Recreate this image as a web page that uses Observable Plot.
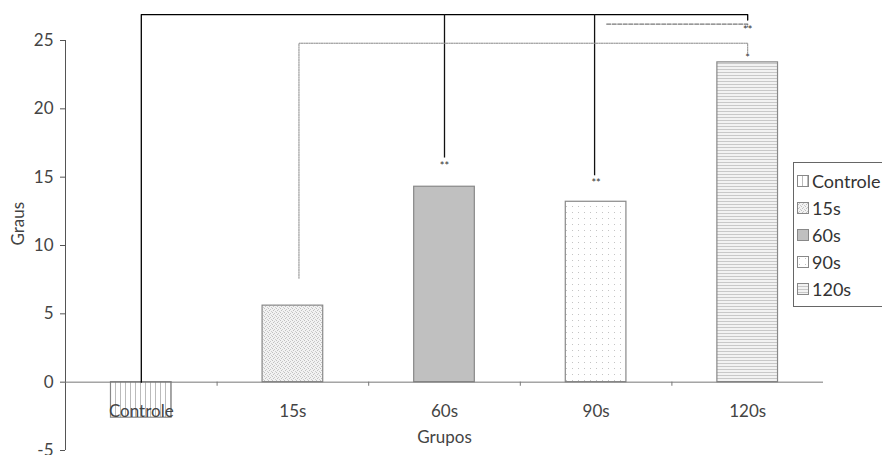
<!DOCTYPE html>
<html>
<head>
<meta charset="utf-8">
<script src="https://cdn.jsdelivr.net/npm/d3@7"></script>
<script src="https://cdn.jsdelivr.net/npm/@observablehq/plot@0.6"></script>
<style>
  html, body { margin: 0; padding: 0; background: #fff; overflow: hidden; }
  #wrap { position: relative; width: 882px; height: 455px; overflow: hidden; font-family: Lato, "Open Sans", sans-serif; }
  #legend { position: absolute; left: 793px; top: 162px; width: 120px; border: 1px solid #666; background: #fff; padding: 4px 0 4px 3px; box-sizing: border-box; }
  .li { display: flex; align-items: center; height: 27px; font-size: 18px; color: #333; }
  .li svg { margin-right: 3px; }
</style>
</head>
<body>
<svg width="0" height="0" style="position:absolute">
  <defs>
    <pattern id="p-ctrl" width="5" height="5" patternUnits="userSpaceOnUse">
      <rect width="5" height="5" fill="#fff"/>
      <rect x="0" y="0" width="1" height="5" fill="#bbb"/>
    </pattern>
    <pattern id="p-15" width="4" height="4" patternUnits="userSpaceOnUse">
      <rect width="4" height="4" fill="#f2f2f2"/>
      <rect x="0" y="0" width="1" height="1" fill="#c0c0c0"/>
      <rect x="2" y="1" width="1" height="1" fill="#c8c8c8"/>
      <rect x="1" y="2" width="1" height="1" fill="#c0c0c0"/>
      <rect x="3" y="3" width="1" height="1" fill="#cccccc"/>
    </pattern>
    <pattern id="p-90" width="6" height="6" patternUnits="userSpaceOnUse">
      <rect width="6" height="6" fill="#fff"/>
      <rect x="2" y="2" width="1" height="1" fill="#c4c4c4"/>
    </pattern>
    <pattern id="p-120" width="3" height="3" patternUnits="userSpaceOnUse">
      <rect width="3" height="3" fill="#f2f2f2"/>
      <rect x="0" y="0" width="3" height="1" fill="#c8c8c8"/>
    </pattern>
  </defs>
</svg>
<div id="wrap">
  <div id="chart"></div>
  <div id="legend"></div>
</div>
<script>
// ---- data ----
const groups = ["Controle", "15s", "60s", "90s", "120s"];
const values = [-2.6, 5.6, 14.3, 13.2, 23.4];
const yTicks = [-5, 0, 5, 10, 15, 20, 25];
const fills = ["url(#p-ctrl)", "url(#p-15)", "#c0c0c0", "url(#p-90)", "url(#p-120)"];

// significance annotations (x in group index units, y in "Graus")
const bracketSolid = [{x: 0, y: 0}, {x: 0, y: 26.9}, {x: 4, y: 26.9}, {x: 4, y: 26.5}];
const solidDrops = [{x: 2, y1: 26.9, y2: 16.4}, {x: 2.99, y1: 26.9, y2: 15.1}];
const bracketDashed = [{x: 3.07, y: 26.2}, {x: 4, y: 26.2}, {x: 4, y: 26.0}];
const bracketDotted = [{x: 1.04, y: 7.6}, {x: 1.04, y: 24.8}, {x: 4, y: 24.8}, {x: 4, y: 24.1}];
const stars = [
  {x: 2, y: 15.8, t: "**"},
  {x: 3, y: 14.55, t: "**"},
  {x: 4, y: 25.7, t: "**"},
  {x: 4, y: 23.65, t: "*"}
];

const bars = groups.map((g, i) => ({g, i, v: values[i], fill: fills[i]}));

const chart = Plot.plot({
  width: 882,
  height: 455,
  marginLeft: 65,
  marginRight: 59,
  marginTop: 40,
  marginBottom: 5,
  style: {fontFamily: "Lato, 'Open Sans', sans-serif", fontSize: "17px", color: "#444", background: "transparent", overflow: "visible"},
  x: {domain: [-0.5, 4.5], axis: null},
  y: {domain: [-5, 25]},
  marks: [
    Plot.axisY({ticks: yTicks, tickFormat: d => String(d), tickSize: 5, tickPadding: 7, label: null, stroke: "#555", fill: "#444", fontSize: 17}),
    Plot.text(["Graus"], {frameAnchor: "left", dx: -47, rotate: -90, fill: "#444", fontSize: 17}),
    Plot.rectY(bars, {x1: d => d.i - 0.2, x2: d => d.i + 0.2, y1: 0, y2: "v", fill: "fill", stroke: "#888", strokeWidth: 1.2}),
    Plot.ruleX([-0.5], {y1: -5, y2: 25, stroke: "#555"}),
    Plot.ruleY([0], {x1: -0.5, x2: 4.5, stroke: "#777"}),
    Plot.ruleX([0.5, 1.5, 2.5, 3.5], {y1: 0, y2: -0.3, stroke: "#777"}),
    Plot.text(bars, {x: "i", y: 0, dy: 29, text: "g", fill: "#444", fontSize: 17}),
    Plot.text(["Grupos"], {x: 2, y: 0, dy: 55, fill: "#444", fontSize: 17}),
    Plot.line(bracketSolid, {x: "x", y: "y", stroke: "#000", strokeWidth: 1.3}),
    Plot.ruleX(solidDrops, {x: "x", y1: "y1", y2: "y2", stroke: "#111", strokeWidth: 1.3}),
    Plot.line(bracketDashed, {x: "x", y: "y", stroke: "#777", strokeWidth: 1.2, strokeDasharray: "4,1.5"}),
    Plot.line(bracketDotted, {x: "x", y: "y", stroke: "#888", strokeWidth: 1, strokeDasharray: "1.5,1"}),
    Plot.text(stars, {x: "x", y: "y", text: "t", fill: "#333", fontSize: 11})
  ]
});
document.getElementById("chart").appendChild(chart);

// legend
const legend = document.getElementById("legend");
groups.forEach((g, i) => {
  const row = document.createElement("div");
  row.className = "li";
  row.innerHTML = `<svg width="12" height="12"><rect x="0.5" y="0.5" width="11" height="11" fill="${fills[i]}" stroke="#888"/></svg><span>${g}</span>`;
  legend.appendChild(row);
});
</script>
</body>
</html>
